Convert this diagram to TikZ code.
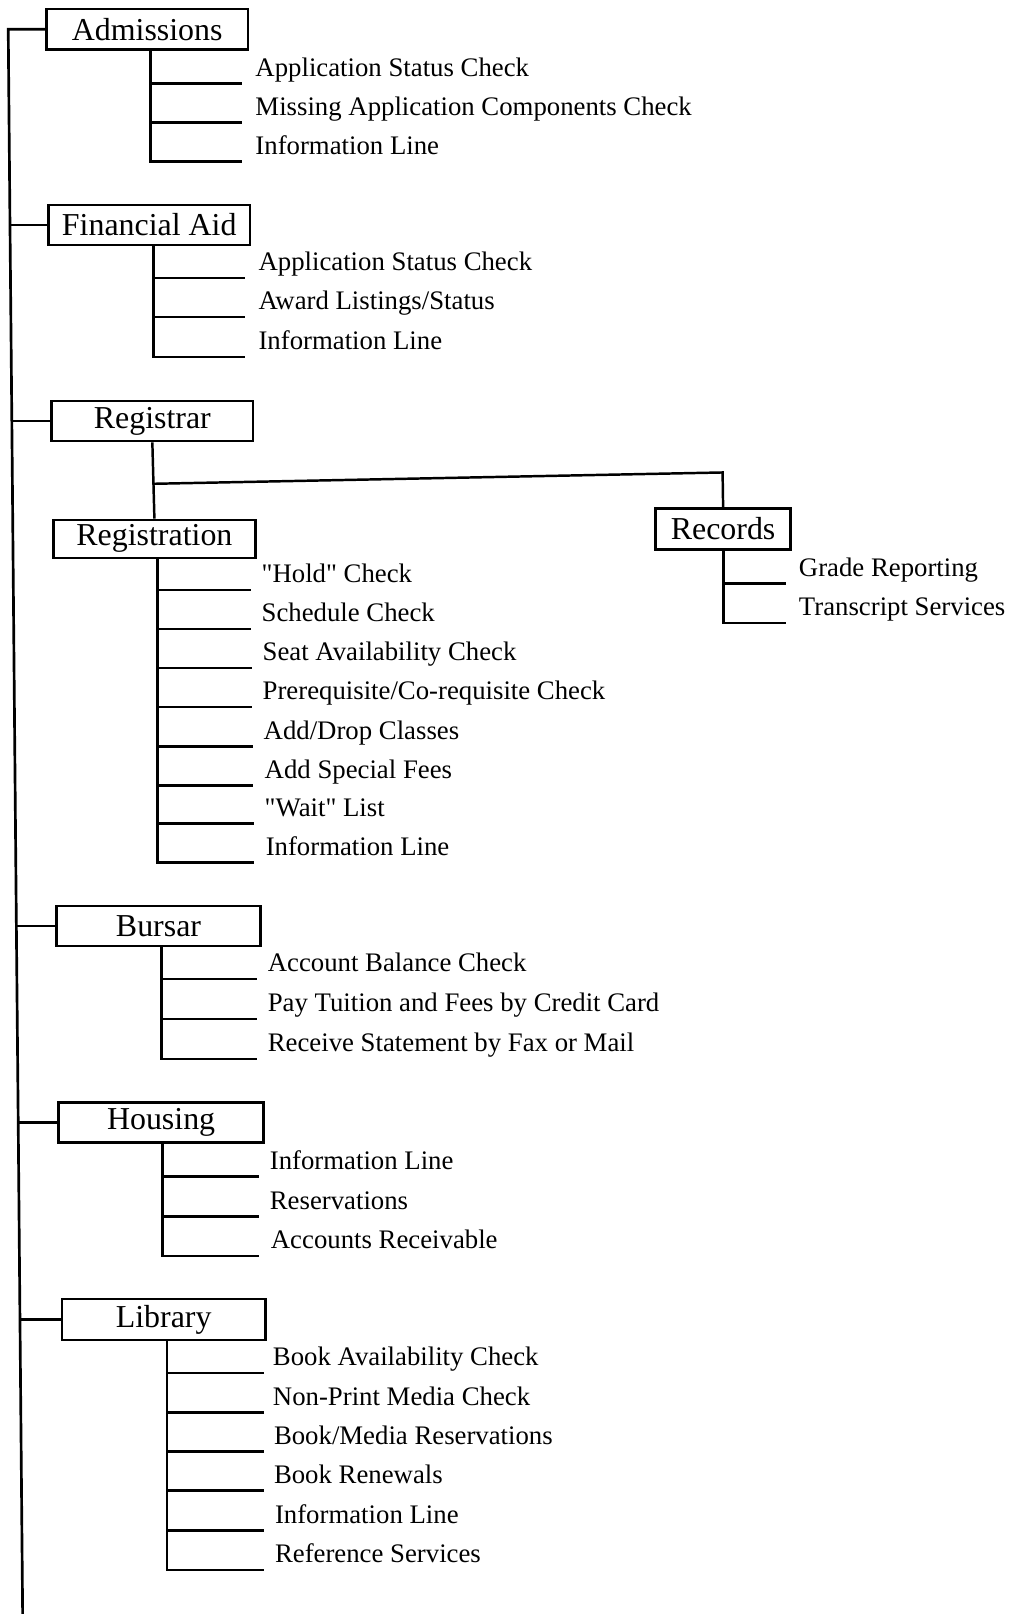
\documentclass[tikz,border=0pt]{standalone}
\usepackage{fontspec}
\setmainfont{Liberation Serif}[Ligatures=TeXOff]
\begin{document}
\begin{tikzpicture}[x=0.5pt,y=-0.5pt,line width=1.2pt,line join=miter,
  unitbox/.style={draw,line width=1.2pt,minimum width=98pt,minimum height=19.5pt,inner sep=0pt,font=\fontsize{15.5}{18}\selectfont},
  leaf/.style={anchor=base west,inner sep=0pt,font=\fontsize{13}{15}\selectfont},
  conn/.style={line width=1.3pt}]
\path[fill=white] (0,0) rectangle (982,1568);
\useasboundingbox (0,0) rectangle (982,1568);

% ---------- boxes ----------
\node[unitbox] (adm) at (143,28.5) {Admissions};
\node[unitbox] (fin) at (145,218.5) {Financial Aid};
\node[unitbox] (rgs) at (148,409) {Registrar};
\node[unitbox,minimum height=18.5pt] (reg) at (150,523.5) {Registration};
\node[unitbox,minimum width=65.5pt,minimum height=20pt] (rec) at (702.5,514) {Records};
\node[unitbox,minimum width=99pt] (bur) at (154,899.5) {Bursar};
\node[unitbox,minimum width=99.5pt] (hou) at (156.5,1090.5) {Housing};
\node[unitbox,minimum width=99pt,minimum height=20pt] (lib) at (159,1282) {Library};

% ---------- trunk ----------
\coordinate (tr0) at (8,28.5);
\coordinate (tr1) at (9.7,218.5);
\coordinate (tr2) at (11.5,409);
\coordinate (tr3) at (15.9,899.5);
\coordinate (tr4) at (17.7,1090.5);
\coordinate (tr5) at (19.4,1282);
\coordinate (trE) at (22,1568);
\draw[conn] (adm.west) -- (tr0) -- (tr1) -- (tr2) -- (tr3) -- (tr4) -- (tr5) -- (trE);
\draw[conn] (tr1) -- (fin.west);
\draw[conn] (tr2) -- (rgs.west);
\draw[conn] (tr3) -- (bur.west);
\draw[conn] (tr4) -- (hou.west);
\draw[conn] (tr5) -- (lib.west);

% ---------- Admissions ----------
\coordinate (adm-v) at (146,48);
\coordinate (a1) at (235,81);
\coordinate (a2) at (235,119);
\coordinate (a3) at (235,157);
\draw (adm-v) |- (a3);
\draw (a1 -| adm-v) -- (a1);
\draw (a2 -| adm-v) -- (a2);
\node[leaf] (ta1) at (247,74) {Application Status Check};
\node[leaf] (ta2) at (247,112) {Missing Application Components Check};
\node[leaf] (ta3) at (247,150) {Information Line};

% ---------- Financial Aid ----------
\coordinate (fin-v) at (149,238);
\coordinate (f1) at (238,270);
\coordinate (f2) at (238,308);
\coordinate (f3) at (238,347);
\draw (fin-v) |- (f3);
\draw (f1 -| fin-v) -- (f1);
\draw (f2 -| fin-v) -- (f2);
\node[leaf] (tf1) at (250,263) {Application Status Check};
\node[leaf] (tf2) at (250,301) {Award Listings/Status};
\node[leaf] (tf3) at (250,340) {Information Line};

% ---------- Registrar ----------
\coordinate (br) at (149,470);
\coordinate (brE) at (702,459);
\draw (rgs.south) -- (reg.north);
\draw (br) -- (brE) -- (rec.north);

% ---------- Registration ----------
\coordinate (reg-v) at (153,542);
\coordinate (r1) at (244,573);
\coordinate (r2) at (244,611);
\coordinate (r3) at (245,649);
\coordinate (r4) at (245,687);
\coordinate (r5) at (246,725);
\coordinate (r6) at (246,763);
\coordinate (r7) at (247,800);
\coordinate (r8) at (247,838);
\draw (reg-v) |- (r8);
\foreach \r in {r1,r2,r3,r4,r5,r6,r7} \draw (\r -| reg-v) -- (\r);
\node[leaf] (tr-1) at (253,566) {"Hold" Check};
\node[leaf] (tr-2) at (253,604) {Schedule Check};
\node[leaf] (tr-3) at (254,642) {Seat Availability Check};
\node[leaf] (tr-4) at (254,680) {Prerequisite/Co-requisite Check};
\node[leaf] (tr-5) at (255,718) {Add/Drop Classes};
\node[leaf] (tr-6) at (256,756) {Add Special Fees};
\node[leaf] (tr-7) at (256,793) {"Wait" List};
\node[leaf] (tr-8) at (257,831) {Information Line};

% ---------- Records ----------
\coordinate (rec-v) at (703,534);
\coordinate (c1) at (764,567);
\coordinate (c2) at (764,605);
\draw (rec-v) |- (c2);
\draw (c1 -| rec-v) -- (c1);
\node[leaf] (tc1) at (775,560) {Grade Reporting};
\node[leaf] (tc2) at (775,598) {Transcript Services};

% ---------- Bursar ----------
\coordinate (bur-v) at (157,919);
\coordinate (b1) at (250,951);
\coordinate (b2) at (250,990);
\coordinate (b3) at (250,1029);
\draw (bur-v) |- (b3);
\draw (b1 -| bur-v) -- (b1);
\draw (b2 -| bur-v) -- (b2);
\node[leaf] (tb1) at (259,944) {Account Balance Check};
\node[leaf] (tb2) at (259,983) {Pay Tuition and Fees by Credit Card};
\node[leaf] (tb3) at (259,1022) {Receive Statement by Fax or Mail};

% ---------- Housing ----------
\coordinate (hou-v) at (158,1110);
\coordinate (h1) at (252,1143);
\coordinate (h2) at (252,1182);
\coordinate (h3) at (252,1220);
\draw (hou-v) |- (h3);
\draw (h1 -| hou-v) -- (h1);
\draw (h2 -| hou-v) -- (h2);
\node[leaf] (th1) at (261,1136) {Information Line};
\node[leaf] (th2) at (261,1175) {Reservations};
\node[leaf] (th3) at (262,1213) {Accounts Receivable};

% ---------- Library ----------
\coordinate (lib-v) at (162,1302);
\coordinate (l1) at (256,1334);
\coordinate (l2) at (256,1372);
\coordinate (l3) at (256,1410);
\coordinate (l4) at (256,1448);
\coordinate (l5) at (256,1487);
\coordinate (l6) at (256,1525);
\draw (lib-v) |- (l6);
\foreach \l in {l1,l2,l3,l4,l5} \draw (\l -| lib-v) -- (\l);
\node[leaf] (tl1) at (264,1327) {Book Availability Check};
\node[leaf] (tl2) at (264,1365) {Non-Print Media Check};
\node[leaf] (tl3) at (265,1403) {Book/Media Reservations};
\node[leaf] (tl4) at (265,1441) {Book Renewals};
\node[leaf] (tl5) at (266,1480) {Information Line};
\node[leaf] (tl6) at (266,1518) {Reference Services};
\end{tikzpicture}
\end{document}
